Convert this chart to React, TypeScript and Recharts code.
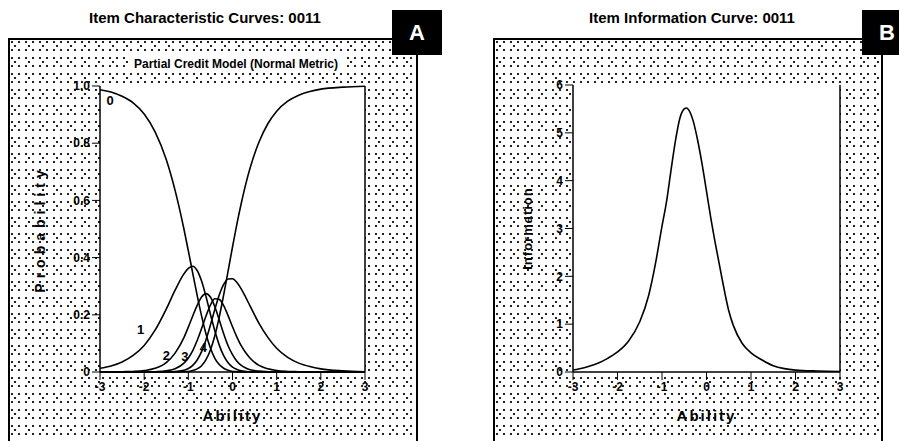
import React from "react";
import { LineChart, Line, XAxis, YAxis, CartesianGrid, ReferenceDot } from "recharts";

// ability grid shared by the category curves
const THETA = [
  -3, -2.75, -2.5, -2.25, -2, -1.75, -1.5, -1.3, -1.1, -1.0, -0.9, -0.8, -0.7, -0.6, -0.5, -0.4, -0.3,
  -0.2, -0.1, 0, 0.1, 0.2, 0.3, 0.4, 0.6, 0.8, 1.0, 1.25, 1.5, 1.75, 2, 2.5, 3,
];

// category response probabilities (categories 0-5)
const CAT0 = [
  0.987, 0.979, 0.964, 0.941, 0.902, 0.839, 0.743, 0.635, 0.5, 0.424, 0.345, 0.268, 0.196, 0.133, 0.084, 0.048, 0.026,
  0.013, 0.006, 0.002, 0.001, 0, 0, 0, 0, 0, 0, 0, 0, 0, 0, 0, 0,
];
const CAT1 = [
  0.013, 0.021, 0.035, 0.058, 0.093, 0.147, 0.22, 0.286, 0.343, 0.362, 0.37, 0.355, 0.318, 0.264, 0.202, 0.144, 0.094,
  0.057, 0.032, 0.017, 0.009, 0.004, 0.002, 0.001, 0, 0, 0, 0, 0, 0, 0, 0, 0,
];
const CAT2 = [
  0, 0, 0.001, 0.002, 0.005, 0.013, 0.033, 0.066, 0.12, 0.157, 0.196, 0.233, 0.262, 0.274, 0.262, 0.228, 0.182,
  0.134, 0.092, 0.061, 0.038, 0.023, 0.014, 0.008, 0.003, 0.001, 0, 0, 0, 0, 0, 0, 0,
];
const CAT3 = [
  0, 0, 0, 0, 0, 0.001, 0.004, 0.011, 0.031, 0.049, 0.075, 0.11, 0.152, 0.196, 0.234, 0.256, 0.254,
  0.232, 0.197, 0.158, 0.122, 0.091, 0.067, 0.048, 0.023, 0.011, 0.005, 0.002, 0.001, 0, 0, 0, 0,
];
const CAT4 = [
  0, 0, 0, 0, 0, 0, 0, 0.002, 0.006, 0.012, 0.023, 0.042, 0.071, 0.113, 0.164, 0.219, 0.269,
  0.306, 0.325, 0.326, 0.313, 0.29, 0.261, 0.23, 0.17, 0.121, 0.083, 0.051, 0.031, 0.019, 0.011, 0.004, 0.001,
];
const CAT5 = [
  0, 0, 0, 0, 0, 0, 0, 0, 0.001, 0.002, 0.005, 0.011, 0.022, 0.043, 0.077, 0.127, 0.192,
  0.27, 0.353, 0.437, 0.518, 0.591, 0.657, 0.714, 0.804, 0.868, 0.912, 0.947, 0.968, 0.981, 0.989, 0.996, 0.999,
];

// item information
const INFO_THETA = [
  -3, -2.75, -2.5, -2.25, -2, -1.75, -1.5, -1.3, -1.15, -1.0, -0.9, -0.8, -0.7, -0.6, -0.5, -0.45, -0.4,
  -0.3, -0.2, -0.1, 0, 0.1, 0.2, 0.35, 0.5, 0.6, 0.8, 1.0, 1.25, 1.5, 1.75, 2, 2.5, 3,
];
const INFO = [
  0.04, 0.09, 0.16, 0.27, 0.42, 0.65, 1.05, 1.6, 2.25, 3.05, 3.55, 4.2, 4.82, 5.3, 5.5, 5.52, 5.48,
  5.25, 4.85, 4.35, 3.78, 3.2, 2.68, 1.95, 1.28, 0.98, 0.6, 0.4, 0.25, 0.13, 0.07, 0.04, 0.02, 0.01,
];

const X_TICKS = [-3, -2, -1, 0, 1, 2, 3];
const P_TICKS = [0, 0.2, 0.4, 0.6, 0.8, 1.0];
const P_MINOR = [
  0, 0.0667, 0.1333, 0.2, 0.2667, 0.3333, 0.4, 0.4667, 0.5333, 0.6, 0.6667, 0.7333, 0.8, 0.8667, 0.9333, 1,
];
const I_TICKS = [0, 1, 2, 3, 4, 5, 6];
const I_MINOR = [0, 0.5, 1, 1.5, 2, 2.5, 3, 3.5, 4, 4.5, 5, 5.5, 6];

const CATEGORIES = ["c0", "c1", "c2", "c3", "c4", "c5"];
const CURVE_LABELS = [
  { text: "0", theta: -2.77, p: 0.95 },
  { text: "1", theta: -2.08, p: 0.15 },
  { text: "2", theta: -1.5, p: 0.058 },
  { text: "3", theta: -1.08, p: 0.054 },
  { text: "4", theta: -0.66, p: 0.086 },
];

const iccData = THETA.map((t, i) => ({
  theta: t,
  c0: CAT0[i],
  c1: CAT1[i],
  c2: CAT2[i],
  c3: CAT3[i],
  c4: CAT4[i],
  c5: CAT5[i],
}));
const infoData = INFO_THETA.map((t, i) => ({ theta: t, info: INFO[i] }));

const FONT = "'Liberation Sans', Arial, sans-serif";
// stippled fill around the plot frames
const dots =
  "radial-gradient(circle at 2px 2px, #222 0.8px, rgba(0,0,0,0) 1.3px) 0 0 / 7px 8px, " +
  "radial-gradient(circle at 2px 2px, #222 0.8px, rgba(0,0,0,0) 1.3px) 3px 4px / 14px 16px, #fff";
const tickStyle = { fontSize: 12, fontWeight: 700, fill: "#000", fontFamily: FONT };
const axisLine = { stroke: "#000", strokeWidth: 1.5 };
const titleStyle = { fontWeight: 700, fill: "#000", fontFamily: FONT };

const Panel = ({ left, width }: { left: number; width: number }) => (
  <div
    style={{
      position: "absolute",
      left,
      top: 38,
      width,
      height: 420,
      border: "2px solid #000",
      boxSizing: "border-box",
      background: dots,
    }}
  />
);

const Badge = ({ left, text }: { left: number; text: string }) => (
  <div
    style={{
      position: "absolute",
      left,
      top: 10,
      width: 50,
      height: 45,
      background: "#000",
      color: "#fff",
      fontSize: 22,
      fontWeight: 700,
      lineHeight: "45px",
      textAlign: "center",
    }}
  >
    {text}
  </div>
);

const Title = ({ center, text, top, size, bg }: { center: number; text: string; top: number; size: number; bg?: boolean }) => (
  <div
    style={{
      position: "absolute",
      left: center - 200,
      width: 400,
      top,
      textAlign: "center",
      fontSize: size,
      fontWeight: 700,
    }}
  >
    <span style={{ background: bg ? "#fff" : "transparent", padding: "0 4px" }}>{text}</span>
  </div>
);

export default function App() {
  return (
    <div
      style={{
        position: "fixed",
        left: 0,
        top: 0,
        width: 899,
        height: 441,
        overflow: "hidden",
        background: "#fff",
        fontFamily: FONT,
      }}
    >
      <Panel left={8} width={410} />
      <Panel left={493} width={390} />
      <Title center={205} top={9} size={15} text="Item Characteristic Curves: 0011" />
      <Title center={692} top={9} size={15} text="Item Information Curve: 0011" />
      <Title center={236} top={57} size={12} bg text="Partial Credit Model (Normal Metric)" />
      <Badge left={392} text="A" />
      <Badge left={862} text="B" />

      <div style={{ position: "absolute", left: 8, top: 38 }}>
        <LineChart width={410} height={403} data={iccData} margin={{ top: 48, right: 43, bottom: 17, left: 30 }}>
          <CartesianGrid fill="#fff" horizontal={false} vertical={false} />
          <XAxis
            dataKey="theta"
            type="number"
            domain={[-3, 3]}
            ticks={X_TICKS}
            height={52}
            tickSize={8}
            tick={tickStyle}
            axisLine={axisLine}
            tickLine={{ stroke: "#000" }}
            label={{ value: "Ability", position: "insideBottom", offset: 3, style: { ...titleStyle, fontSize: 15, letterSpacing: 2 } }}
          />
          <XAxis xAxisId="top" orientation="top" type="number" domain={[-3, 3]} height={0} tick={false} axisLine={axisLine} />
          <YAxis
            yAxisId="p"
            type="number"
            domain={[0, 1]}
            ticks={P_TICKS}
            width={62}
            tickSize={8}
            tick={tickStyle}
            tickFormatter={(v: number) => (v === 0 ? "0" : v.toFixed(1))}
            axisLine={axisLine}
            tickLine={{ stroke: "#000" }}
            label={{ value: "Probability", angle: -90, position: "insideLeft", offset: 2, style: { ...titleStyle, textAnchor: "middle", fontSize: 14, letterSpacing: 5 } }}
          />
          <YAxis yAxisId="pm" type="number" domain={[0, 1]} ticks={P_MINOR} width={0} tickSize={4} tickFormatter={() => ""} axisLine={false} tickLine={{ stroke: "#000" }} />
          <YAxis yAxisId="pr" orientation="right" type="number" domain={[0, 1]} ticks={P_MINOR} width={10} tickSize={4} tickFormatter={() => ""} axisLine={axisLine} tickLine={{ stroke: "#000" }} />
          {CATEGORIES.map((key) => (
            <Line
              key={key}
              yAxisId="p"
              type="monotone"
              dataKey={key}
              stroke="#000"
              strokeWidth={1.6}
              dot={false}
              isAnimationActive={false}
            />
          ))}
          {CURVE_LABELS.map((l) => (
            <ReferenceDot
              key={l.text}
              yAxisId="p"
              x={l.theta}
              y={l.p}
              r={0}
              label={{ value: l.text, position: "center", fontSize: 13, fontWeight: 700, fill: "#000" }}
            />
          ))}
        </LineChart>
      </div>

      <div style={{ position: "absolute", left: 493, top: 38 }}>
        <LineChart width={390} height={403} data={infoData} margin={{ top: 47, right: 33, bottom: 17, left: 30 }}>
          <CartesianGrid fill="#fff" horizontal={false} vertical={false} />
          <XAxis
            dataKey="theta"
            type="number"
            domain={[-3, 3]}
            ticks={X_TICKS}
            height={52}
            tickSize={8}
            tick={tickStyle}
            axisLine={axisLine}
            tickLine={{ stroke: "#000" }}
            label={{ value: "Ability", position: "insideBottom", offset: 3, style: { ...titleStyle, fontSize: 15, letterSpacing: 2 } }}
          />
          <XAxis xAxisId="top" orientation="top" type="number" domain={[-3, 3]} height={0} tick={false} axisLine={axisLine} />
          <YAxis
            yAxisId="i"
            type="number"
            domain={[0, 6]}
            ticks={I_TICKS}
            width={50}
            tickSize={8}
            tick={tickStyle}
            axisLine={axisLine}
            tickLine={{ stroke: "#000" }}
            label={{ value: "Information", angle: -90, position: "insideLeft", offset: 4, style: { ...titleStyle, textAnchor: "middle", fontSize: 13, letterSpacing: 1 } }}
          />
          <YAxis yAxisId="im" type="number" domain={[0, 6]} ticks={I_MINOR} width={0} tickSize={4} tickFormatter={() => ""} axisLine={false} tickLine={{ stroke: "#000" }} />
          <YAxis yAxisId="ir" orientation="right" type="number" domain={[0, 6]} ticks={I_MINOR} width={10} tickSize={4} tickFormatter={() => ""} axisLine={axisLine} tickLine={{ stroke: "#000" }} />
          <Line yAxisId="i" type="monotone" dataKey="info" stroke="#000" strokeWidth={1.6} dot={false} isAnimationActive={false} />
        </LineChart>
      </div>
    </div>
  );
}
